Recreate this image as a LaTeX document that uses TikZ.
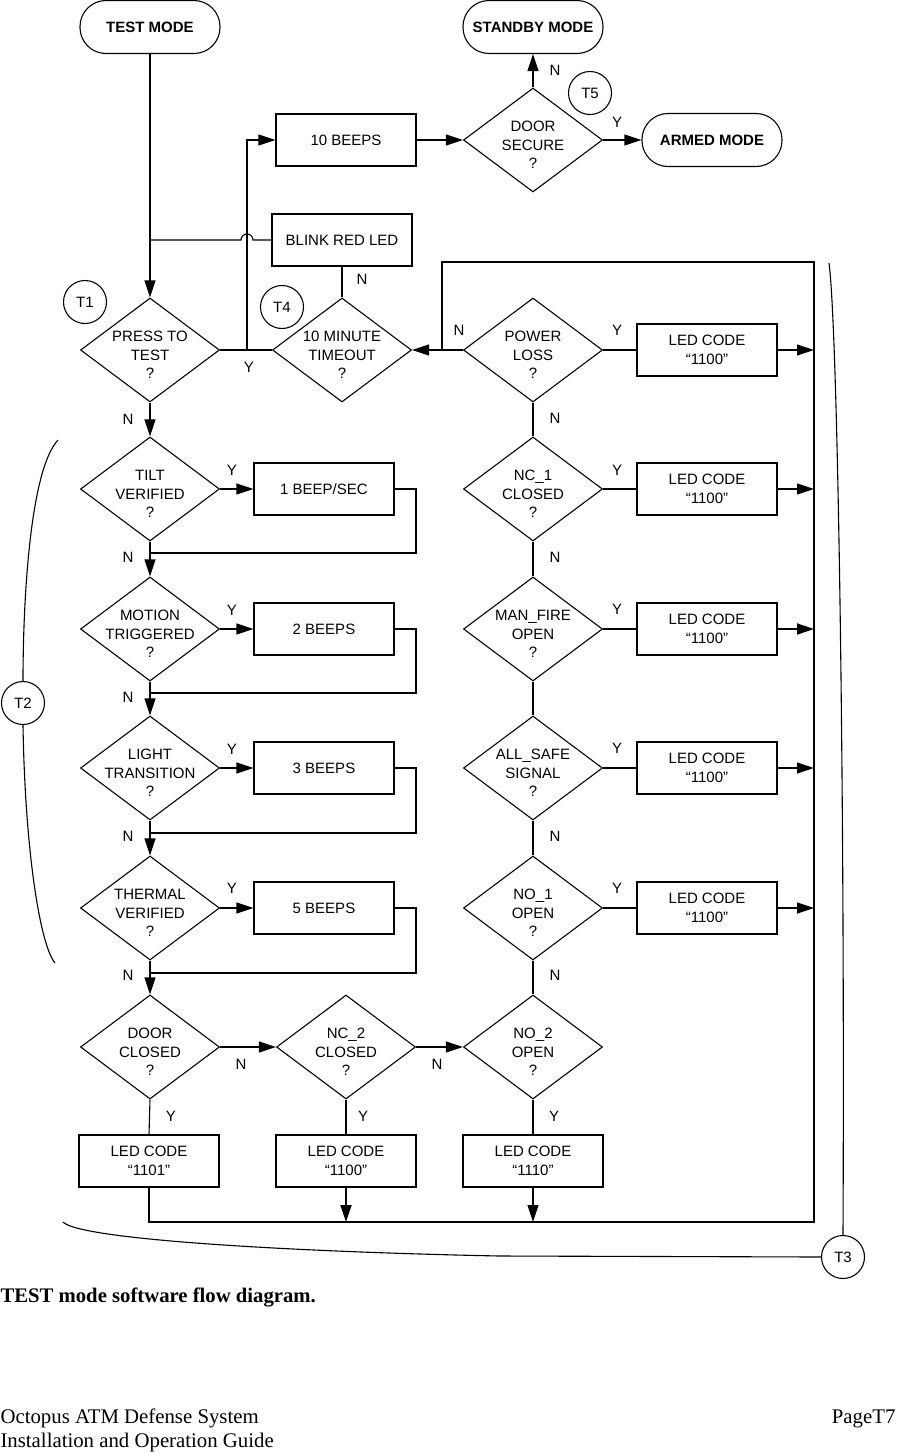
\documentclass[tikz,border=0pt]{standalone}
\usepackage{fontspec}
\setmainfont{Liberation Serif}
\newfontfamily\hv{Liberation Sans}
\usetikzlibrary{shapes.geometric,arrows.meta}
\newcommand\mydia[3]{\node[dec] (#1) at (#2) {}; \node[dtxt] at ([yshift=-5pt]#1.center) {#3};}
\tikzset{
  dfont/.style={font=\hv\fontsize{15}{18.5}\selectfont},
  dec/.style={diamond, draw, line width=1.1pt, minimum width=139pt, minimum height=104pt, inner sep=0pt},
  dtxt/.style={dfont, align=center, inner sep=0pt},
  box/.style={rectangle, draw, line width=1.1pt, minimum width=140pt, minimum height=52pt, align=center, inner sep=0pt, font=\hv\fontsize{15}{19.5}\selectfont},
  term/.style={rectangle, rounded corners=26pt, draw, line width=1.1pt, minimum width=140pt, minimum height=53pt, font=\hv\bfseries\fontsize{15}{18}\selectfont},
  tcirc/.style={circle, draw, line width=1.1pt, minimum size=43pt, inner sep=0pt, dfont},
  lbl/.style={dfont, inner sep=0pt},
  arr/.style={-{Triangle[length=17pt,width=11pt]}},
  heavy/.style={line width=1.9pt},
  brace/.style={line width=1.1pt}
}
\begin{document}
\begin{tikzpicture}[x=1pt,y=-1pt,line width=1.1pt]
\useasboundingbox (0,0) rectangle (898,1452);

% terminals
\node[term] (tm) at (150,27) {TEST MODE};
\node[term] (sb) at (533,27) {STANDBY MODE};
\node[term] (am) at (712,140) {ARMED MODE};

% boxes (top)
\node[box] (beeps10) at (346,140) {10 BEEPS};
\node[box] (blink) at (342,240) {BLINK RED LED};
\mydia{ds}{533,140}{DOOR\\SECURE\\?}

% row 1
\mydia{p1}{150,350}{PRESS TO\\TEST\\?}
\mydia{tmo}{342,350}{10 MINUTE\\TIMEOUT\\?}
\mydia{pl}{533,350}{POWER\\LOSS\\?}
\node[box] (r1) at (707,350) {LED CODE\\“1100”};

% left column
\mydia{tilt}{150,489}{TILT\\VERIFIED\\?}
\mydia{mot}{150,629}{MOTION\\TRIGGERED\\?}
\mydia{lt}{150,768}{LIGHT\\TRANSITION\\?}
\mydia{th}{150,908}{THERMAL\\VERIFIED\\?}
\node[box] (b1) at (324,489) {1 BEEP/SEC};
\node[box] (b2) at (324,629) {2 BEEPS};
\node[box] (b3) at (324,768) {3 BEEPS};
\node[box] (b5) at (324,908) {5 BEEPS};

% right column
\mydia{nc1}{533,489}{NC\_1\\CLOSED\\?}
\mydia{mf}{533,629}{MAN\_FIRE\\OPEN\\?}
\mydia{as}{533,768}{ALL\_SAFE\\SIGNAL\\?}
\mydia{no1}{533,908}{NO\_1\\OPEN\\?}
\node[box] (r2) at (707,489) {LED CODE\\“1100”};
\node[box] (r3) at (707,629) {LED CODE\\“1100”};
\node[box] (r4) at (707,768) {LED CODE\\“1100”};
\node[box] (r5) at (707,908) {LED CODE\\“1100”};

% bottom row
\mydia{dc}{150,1047}{DOOR\\CLOSED\\?}
\mydia{nc2}{346,1047}{NC\_2\\CLOSED\\?}
\mydia{no2}{533,1047}{NO\_2\\OPEN\\?}
\node[box] (l1101) at (149,1161) {LED CODE\\“1101”};
\node[box] (l1100) at (346,1161) {LED CODE\\“1100”};
\node[box] (l1110) at (533,1161) {LED CODE\\“1110”};

% test point circles
\node[tcirc] (t1) at (85,302) {T1};
\node[tcirc] (t2) at (23,703) {T2};
\node[tcirc] (t3) at (843,1257) {T3};
\node[tcirc] (t4) at (282,307) {T4};
\node[tcirc] (t5) at (590,93) {T5};

% coordinates
\coordinate (jb) at (150,240);
\coordinate (yj) at (247,350);
\coordinate (plj) at (442,350);
\coordinate (lt1) at (442,262);
\coordinate (rt1) at (814,262);
\coordinate (rb1) at (814,1222);
\coordinate (lb1) at (149,1222);
\coordinate (e1) at (814,350);
\coordinate (e2) at (814,489);
\coordinate (e3) at (814,629);
\coordinate (e4) at (814,768);
\coordinate (e5) at (814,908);
\coordinate (m1) at (346,1222);
\coordinate (m2) at (533,1222);
\coordinate (k1) at (150,553);
\coordinate (k2) at (150,693);
\coordinate (k3) at (150,833);
\coordinate (k4) at (150,973);

% top connectors
\draw[arr] (tm.south) -- (p1.north);
\draw (blink.west) -- (253,240) arc (0:-180:6) -- (jb);
\draw (p1.east) -- (tmo.west);
\draw[arr] (yj) |- (beeps10.west);
\draw[arr] (beeps10.east) -- (ds.west);
\draw[arr] (ds.north) -- (sb.south);
\draw[arr] (ds.east) -- (am.west);
\draw (blink.south) -- (tmo.north);
\draw[arr] (pl.west) -- (tmo.east);
\draw[heavy] (plj) -- (lt1) -- (rt1) -- (rb1) -- (lb1) -- (l1101.south);

% right column connectors
\draw (pl.east) -- (r1.west);
\draw (nc1.east) -- (r2.west);
\draw[heavy] (mf.east) -- (r3.west);
\draw (as.east) -- (r4.west);
\draw (no1.east) -- (r5.west);
\draw[arr] (r1.east) -- (e1);
\draw[arr] (r2.east) -- (e2);
\draw[arr,heavy] (r3.east) -- (e3);
\draw[arr] (r4.east) -- (e4);
\draw[arr] (r5.east) -- (e5);
\draw (pl.south) -- (nc1.north);
\draw (nc1.south) -- (mf.north);
\draw (mf.south) -- (as.north);
\draw (as.south) -- (no1.north);
\draw (no1.south) -- (no2.north);

% left column connectors
\draw[arr] (p1.south) -- (tilt.north);
\draw[arr] (tilt.south) -- (mot.north);
\draw[arr] (mot.south) -- (lt.north);
\draw[arr] (lt.south) -- (th.north);
\draw[arr] (th.south) -- (dc.north);
\draw[arr] (tilt.east) -- (b1.west);
\draw[arr] (mot.east) -- (b2.west);
\draw[arr] (lt.east) -- (b3.west);
\draw[arr] (th.east) -- (b5.west);
\draw (b1.east) -| (416,553) -- (k1);
\draw[heavy] (b2.east) -| (416,693) -- (k2);
\draw (b3.east) -| (416,833) -- (k3);
\draw (b5.east) -| (416,973) -- (k4);

% bottom connectors
\draw[arr] (dc.east) -- (nc2.west);
\draw[arr] (nc2.east) -- (no2.west);
\draw (dc.south) -- (l1101.north);
\draw (nc2.south) -- (l1100.north);
\draw (no2.south) -- (l1110.north);
\draw[arr,heavy] (l1100.south) -- (m1);
\draw[arr] (l1110.south) -- (m2);

% brackets to test points
\draw[brace] (58,440) .. controls (30,470) and (23,600) .. (t2.north);
\draw[brace] (t2.south) .. controls (25,850) and (40,945) .. (55,963);
\draw[brace] (829,263) .. controls (838,330) and (845,800) .. (t3.north);
\draw[brace] (63,1222) .. controls (80,1240) and (300,1252) .. (500,1256) -- (t3.west);

% Y/N labels
\node[lbl] at (555,70) {N};
\node[lbl] at (617,122) {Y};
\node[lbl] at (249,367) {Y};
\node[lbl] at (362,279) {N};
\node[lbl] at (459,330) {N};
\node[lbl] at (617,330) {Y};
\node[lbl] at (617,470) {Y};
\node[lbl] at (617,609) {Y};
\node[lbl] at (617,748) {Y};
\node[lbl] at (617,888) {Y};
\node[lbl] at (555,418) {N};
\node[lbl] at (555,557) {N};
\node[lbl] at (555,836) {N};
\node[lbl] at (555,975) {N};
\node[lbl] at (128,419) {N};
\node[lbl] at (128,557) {N};
\node[lbl] at (128,697) {N};
\node[lbl] at (128,836) {N};
\node[lbl] at (128,975) {N};
\node[lbl] at (232,470) {Y};
\node[lbl] at (232,610) {Y};
\node[lbl] at (232,749) {Y};
\node[lbl] at (232,888) {Y};
\node[lbl] at (241,1064) {N};
\node[lbl] at (437,1064) {N};
\node[lbl] at (171,1116) {Y};
\node[lbl] at (363,1116) {Y};
\node[lbl] at (554,1116) {Y};

% caption and footer
\node[anchor=base west, inner sep=0pt, font=\bfseries\fontsize{20.7}{23}\selectfont] (cap) at (0,1302) {TEST mode software flow diagram.};
\node[anchor=base west, inner sep=0pt, font=\fontsize{20.8}{23}\selectfont] (f1) at (0,1423) {Octopus ATM Defense System};
\node[anchor=base west, inner sep=0pt, font=\fontsize{20.8}{23}\selectfont] (f2) at (0,1447) {Installation and Operation Guide};
\node[anchor=base east, inner sep=0pt, font=\fontsize{20.8}{23}\selectfont] (f3) at (896,1423) {PageT7};
\end{tikzpicture}
\end{document}
